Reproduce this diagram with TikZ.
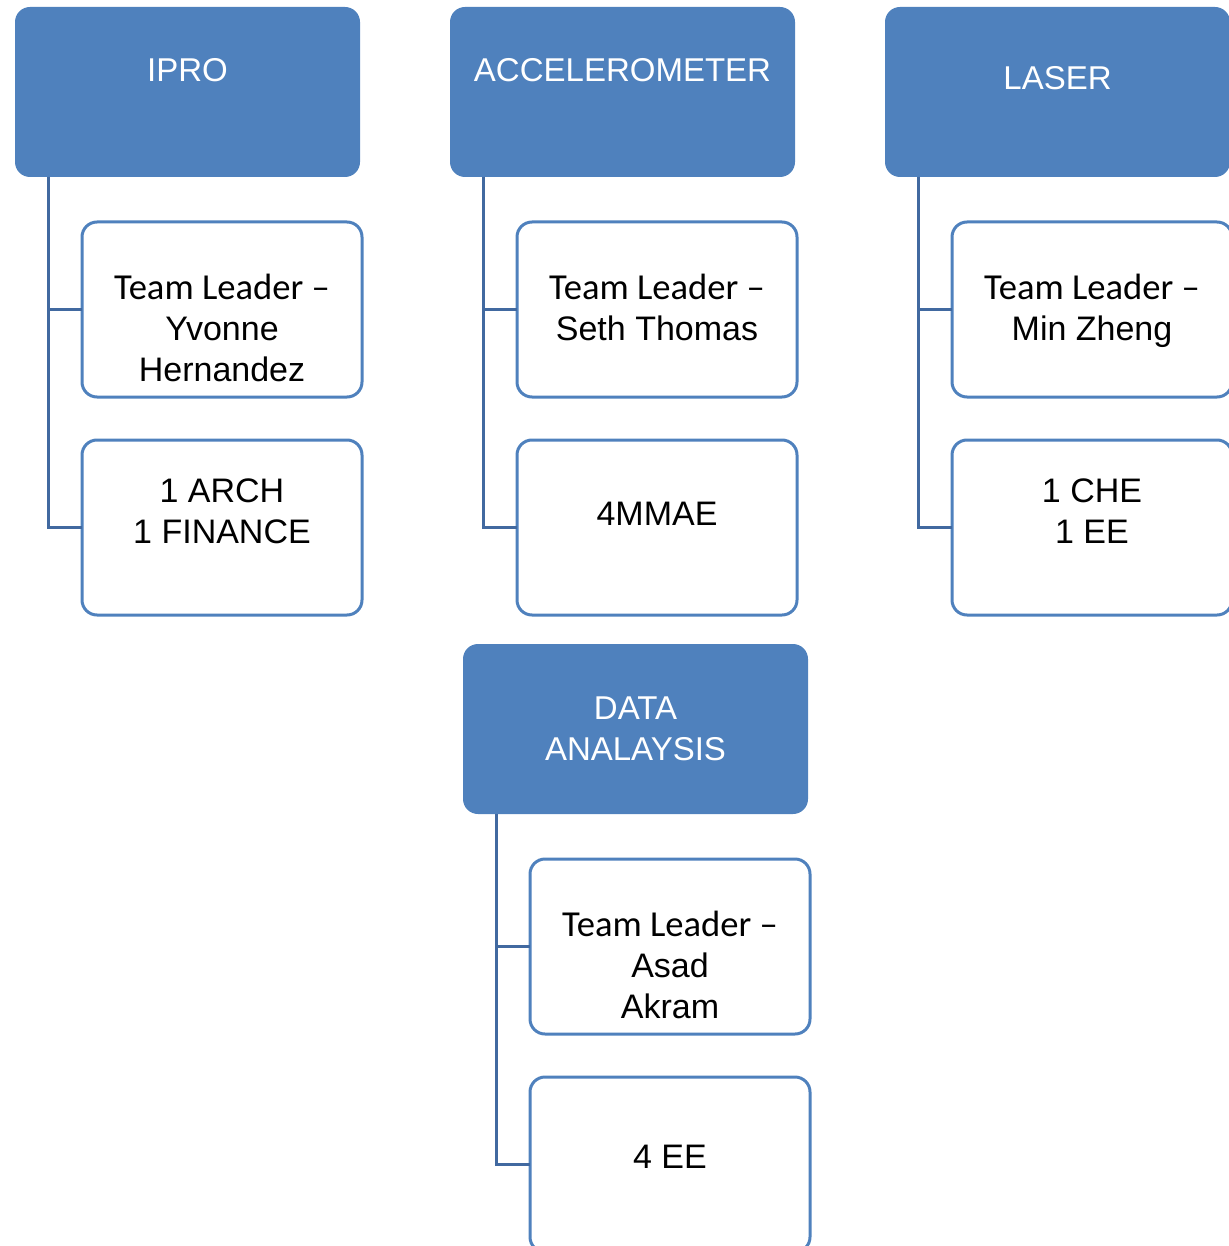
\documentclass[tikz,border=0pt]{standalone}
\usepackage{fontspec}
\setmainfont{Liberation Sans}
\newfontfamily\calibfont{Carlito}
\usetikzlibrary{positioning}
\definecolor{headcolor}{RGB}{79,129,189}
\definecolor{edgecolor}{RGB}{79,129,189}
\definecolor{linkcolor}{RGB}{65,105,160}

\newcommand{\headtext}[2]{\parbox[c][85pt][t]{172.5pt}{\centering\fontsize{16.5pt}{20.5pt}\selectfont\rule{0pt}{#1}#2}}
\newcommand{\membertext}[2]{\parbox[c][87.5pt][t]{140pt}{\centering\fontsize{17pt}{20.5pt}\selectfont\rule{0pt}{#1}#2}}
\newcommand{\leadline}{{\calibfont\fontsize{18.3pt}{20.5pt}\selectfont Team Leader –}}

\begin{document}
\begin{tikzpicture}[
    x=0.5pt, y=-0.5pt,
    head/.style={rectangle, rounded corners=7.5pt, fill=headcolor,
		text=white, inner sep=0pt, outer sep=0pt, anchor=north west},
    member/.style={rectangle, rounded corners=7.5pt, draw=edgecolor,
		line width=1.5pt, fill=white, inner sep=0pt, outer sep=0pt},
    link/.style={draw=linkcolor, line width=1.5pt}
    ]

\useasboundingbox (0,0) rectangle (1229,1246);

\node[head] (ipro) at (15,7) {\headtext{37.5pt}{IPRO}};
\node[head] (accel) at (450,7) {\headtext{37.5pt}{ACCELEROMETER}};
\node[head] (laser) at (885,7) {\headtext{41.5pt}{LASER}};
\node[head] (data) at (463,644) {\headtext{37.5pt}{DATA\\ANALAYSIS}};

\node[member] (iprolead) [below right=22.5pt and 33.5pt of ipro.south west] {
	\membertext{38.5pt}{\leadline\\Yvonne\\Hernandez}
};
\node[member] (iprocount) [below=21.5pt of iprolead] {
	\membertext{31pt}{1 ARCH\\1 FINANCE}
};

\node[member] (accellead) [below right=22.5pt and 33.5pt of accel.south west] {
	\membertext{38.5pt}{\leadline\\Seth Thomas}
};
\node[member] (accelcount) [below=21.5pt of accellead] {
	\membertext{42.5pt}{4MMAE}
};

\node[member] (laserlead) [below right=22.5pt and 33.5pt of laser.south west] {
	\membertext{38.5pt}{\leadline\\Min Zheng}
};
\node[member] (lasercount) [below=21.5pt of laserlead] {
	\membertext{31pt}{1 CHE\\1 EE}
};

\node[member] (datalead) [below right=22.5pt and 33.5pt of data.south west] {
	\membertext{38.5pt}{\leadline\\Asad\\Akram}
};
\node[member] (datacount) [below=21.5pt of datalead] {
	\membertext{45.5pt}{4 EE}
};

\draw[link] ([xshift=16.5pt]ipro.south west) |- (iprolead.west);
\draw[link] ([xshift=16.5pt]ipro.south west) |- (iprocount.west);
\draw[link] ([xshift=16.5pt]accel.south west) |- (accellead.west);
\draw[link] ([xshift=16.5pt]accel.south west) |- (accelcount.west);
\draw[link] ([xshift=16.5pt]laser.south west) |- (laserlead.west);
\draw[link] ([xshift=16.5pt]laser.south west) |- (lasercount.west);
\draw[link] ([xshift=16.5pt]data.south west) |- (datalead.west);
\draw[link] ([xshift=16.5pt]data.south west) |- (datacount.west);

\end{tikzpicture}
\end{document}
